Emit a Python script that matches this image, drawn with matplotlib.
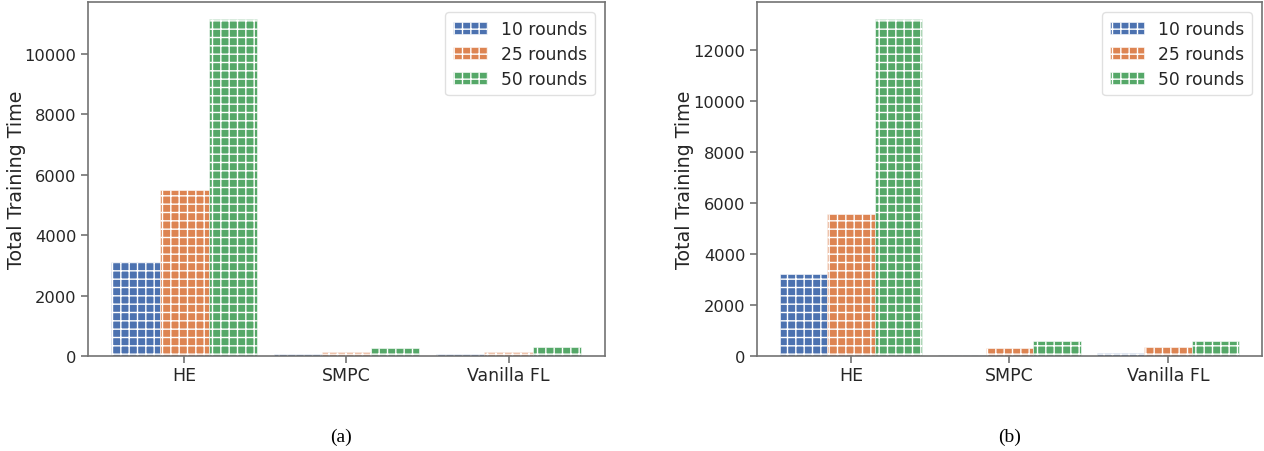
import numpy as np
import matplotlib
matplotlib.use('Agg')
import matplotlib.pyplot as plt

# data
methods = ['HE', 'SMPC', 'Vanilla FL']
rounds = ['10 rounds', '25 rounds', '50 rounds']
time_a_10 = [3100, 60, 70]
time_a_25 = [5500, 130, 140]
time_a_50 = [11160, 270, 300]
time_b_10 = [3200, 30, 100]
time_b_25 = [5580, 310, 350]
time_b_50 = [13220, 590, 600]
captions = ['(a)', '(b)']

colors = ['#4C72B0', '#DD8452', '#55A868']

plt.rcParams['font.family'] = ['DejaVu Sans']
plt.rcParams['hatch.linewidth'] = 1.0

fig = plt.figure(figsize=(12.64, 4.52), dpi=100)
ax_a = fig.add_axes([0.0696, 0.2102, 0.409, 0.783])
ax_b = fig.add_axes([0.5989, 0.2102, 0.3995, 0.783])

def draw(ax, series, ylab_x):
    x = np.arange(len(methods))
    w = 0.3
    for i, vals in enumerate(series):
        ax.bar(x + (i - 1) * w, vals, w, color=colors[i], edgecolor='white',
               linewidth=0.4, hatch='++', label=rounds[i])
    ax.set_xticks(x)
    ax.set_xticklabels(methods)
    ax.set_ylabel('Total Training Time', fontsize=13.7, color='0.15')
    ax.yaxis.set_label_coords(ylab_x, 0.5)
    ax.tick_params(axis='y', labelsize=11.7)
    ax.tick_params(axis='x', labelsize=12.5, pad=2.5)
    ax.tick_params(axis='both', colors='0.45', labelcolor='0.15',
                   length=5, width=1.2, direction='out')
    for s in ax.spines.values():
        s.set_color('0.45')
        s.set_linewidth(1.2)
    leg = ax.legend(fontsize=12.3, loc='upper right', frameon=True, fancybox=True,
                    handlelength=2.0, borderpad=0.45, labelspacing=0.4,
                    borderaxespad=0.6)
    leg.get_frame().set_edgecolor('0.85')
    for t in leg.get_texts():
        t.set_color('0.15')

draw(ax_a, [time_a_10, time_a_25, time_a_50], -0.12)
draw(ax_b, [time_b_10, time_b_25, time_b_50], -0.125)

fig.text(0.270, 0.022, captions[0], fontsize=14, family=['Liberation Serif'], ha='center')
fig.text(0.799, 0.022, captions[1], fontsize=14, family=['Liberation Serif'], ha='center')

fig.savefig('out.png', dpi=100)
